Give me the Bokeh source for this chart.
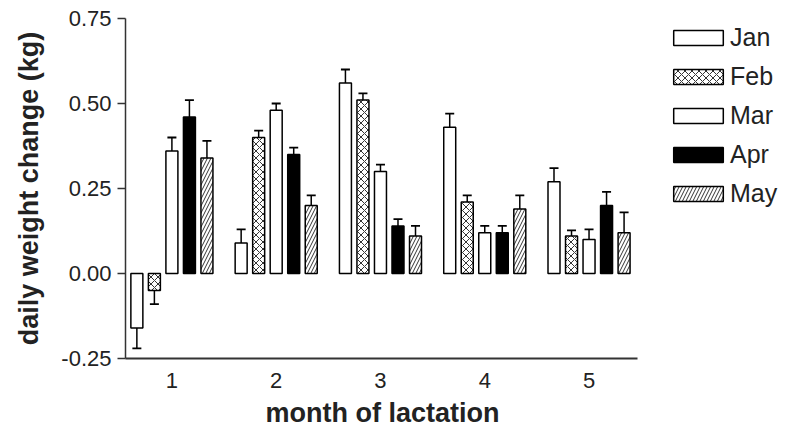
import numpy as np
from bokeh.plotting import figure
from bokeh.models import (ColumnDataSource, FixedTicker, NumeralTickFormatter,
                          Legend, LegendItem, Range1d, Title)
from bokeh.embed import file_html
from bokeh.resources import INLINE

# ---- data ----
lactation = [1, 2, 3, 4, 5]
months = ["Jan", "Feb", "Mar", "Apr", "May"]
jan = [-0.16, 0.09, 0.56, 0.43, 0.27]
jan_err = [0.06, 0.04, 0.04, 0.04, 0.04]
feb = [-0.05, 0.40, 0.51, 0.21, 0.11]
feb_err = [0.04, 0.02, 0.02, 0.02, 0.017]
mar = [0.36, 0.48, 0.30, 0.12, 0.10]
mar_err = [0.04, 0.02, 0.02, 0.02, 0.03]
apr = [0.46, 0.35, 0.14, 0.12, 0.20]
apr_err = [0.05, 0.02, 0.02, 0.02, 0.04]
may = [0.34, 0.20, 0.11, 0.19, 0.12]
may_err = [0.05, 0.03, 0.03, 0.04, 0.06]
y_ticks = [-0.25, 0.0, 0.25, 0.5, 0.75]

series = [jan, feb, mar, apr, may]
errors = [jan_err, feb_err, mar_err, apr_err, may_err]

styles = [
    dict(fill_color="white", hatch_pattern=None),
    dict(fill_color="white", hatch_pattern="x"),
    dict(fill_color="white", hatch_pattern=None),
    dict(fill_color="black", hatch_pattern=None),
    dict(fill_color="white", hatch_pattern="/"),
]

FONT = "Liberation Sans"
TXT = "#222222"

X0, X1 = 0.555, 5.465          # extent of the drawn x axis
X_END = 6.836                  # frame extended right to hold the legend

p = figure(width=786, height=432, output_backend="svg", toolbar_location=None,
           x_range=Range1d(X0, X_END), y_range=Range1d(-0.25, 0.75),
           min_border_left=125, min_border_top=18, min_border_right=6,
           min_border_bottom=73)
p.outline_line_color = None
p.xgrid.visible = False
p.ygrid.visible = False
p.background_fill_color = "white"

step = 0.168
width = 0.115
items = []
for i, (vals, errs, st, name) in enumerate(zip(series, errors, styles, months)):
    x = np.array(lactation, dtype=float) + (i - 2) * step
    v = np.array(vals)
    e = np.array(errs)
    tip = v + np.sign(v) * e
    src = ColumnDataSource(dict(x=x, top=v, tip=tip))
    kw = dict(line_color="black", line_width=1.5, fill_color=st["fill_color"])
    if st["hatch_pattern"]:
        kw.update(hatch_pattern=st["hatch_pattern"], hatch_color="#333333",
                  hatch_scale=7, hatch_weight=1)
    r = p.vbar(x="x", top="top", bottom=0, width=width, source=src, **kw)
    p.segment(x0="x", y0="top", x1="x", y1="tip", source=src,
              line_color="black", line_width=1.5)
    p.scatter(x="x", y="tip", marker="dash", size=9, source=src,
              line_color="black", line_width=1.8)
    items.append(LegendItem(label=name, renderers=[r]))

# axes
yax = p.yaxis[0]
yax.ticker = FixedTicker(ticks=y_ticks)
yax.formatter = NumeralTickFormatter(format="0.00")
yax.minor_tick_line_color = None
yax.major_tick_out = 8
yax.major_tick_in = 0
yax.major_tick_line_width = 1.5
yax.axis_line_width = 1.5
yax.axis_line_color = "#333333"
yax.major_tick_line_color = "#333333"
yax.major_label_text_font = FONT
yax.major_label_text_font_size = "22px"
yax.major_label_text_color = TXT
yax.major_label_standoff = 6
yax.axis_label = "daily weight change (kg)"
yax.axis_label_text_font = FONT
yax.axis_label_text_font_size = "27px"
yax.axis_label_text_font_style = "bold"
yax.axis_label_text_color = TXT
yax.axis_label_standoff = 14

xax = p.xaxis[0]
xax.bounds = (X0, X1)
xax.ticker = FixedTicker(ticks=lactation)
xax.minor_tick_line_color = None
xax.major_tick_out = 0
xax.major_tick_in = 0
xax.axis_line_width = 2.2
xax.axis_line_color = "#333333"
xax.major_label_text_font = FONT
xax.major_label_text_font_size = "22px"
xax.major_label_text_color = TXT
xax.major_label_standoff = 14

xtitle = Title(text="month of lactation", align="left", offset=140,
               text_font=FONT, text_font_size="27px", text_font_style="bold",
               text_color=TXT, standoff=10, text_line_height=0.8)
p.add_layout(xtitle, "below")

legend = Legend(items=items, location=(542, 150), orientation="vertical",
                glyph_width=62, glyph_height=19, label_standoff=1,
                label_text_font=FONT, label_text_font_size="25px",
                label_text_color=TXT, label_height=28, spacing=10,
                padding=0, margin=0, border_line_alpha=0,
                background_fill_alpha=0)
p.add_layout(legend, "center")

open("out.html", "w").write(file_html(p, INLINE))
